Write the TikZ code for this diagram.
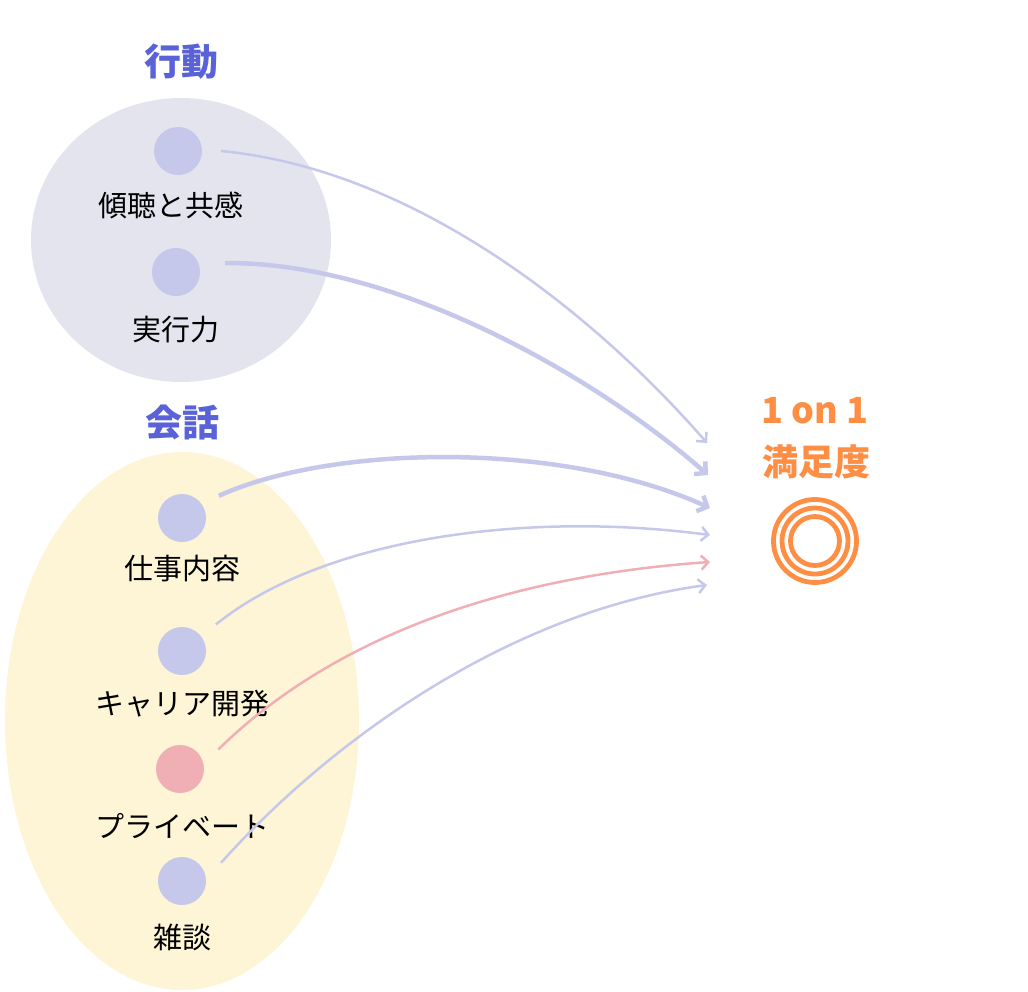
\documentclass[tikz,border=0pt]{standalone}
\usepackage{fontspec}
\setmainfont{Noto Sans CJK JP}
\usetikzlibrary{arrows.meta}
\definecolor{dotblue}{HTML}{C5C8EA}
\definecolor{dotpink}{HTML}{F0AEB5}
\definecolor{groupgray}{HTML}{E4E4EF}
\definecolor{groupyellow}{HTML}{FDF5D5}
\definecolor{titleblue}{HTML}{5A62D8}
\definecolor{goalorange}{HTML}{FF8E45}
\begin{document}
\begin{tikzpicture}[
        x=1pt, y=-1pt,
        font=\fontsize{29}{34}\selectfont
    ]
    \tikzset{
        mydot/.style = {circle, fill=dotblue, minimum size=48pt, inner sep=0pt, outer sep=19pt},
        mydotp/.style = {mydot, fill=dotpink},
        mylabel/.style = {text=black, inner sep=0pt},
        mytitle/.style = {text=titleblue, font=\fontsize{37}{40}\selectfont\bfseries, inner sep=0pt},
        mygoal/.style = {text=goalorange, font=\fontsize{36}{40}\selectfont\bfseries, inner sep=0pt},
        edgen/.style = {line width=2.5pt, dotblue, -{Straight Barb[length=7pt,width=14pt]}},
        edget/.style = {line width=4.5pt, dotblue, -{Straight Barb[length=8pt,width=17pt]}},
        edgep/.style = {edgen, dotpink},
        ring/.style = {draw=goalorange, line width=4.8pt},
    }
    \useasboundingbox (0,0) rectangle (1028,991);
    % groups
    \fill[groupgray] (181,240) ellipse [x radius=150, y radius=142];
    \fill[groupyellow] (182,721) ellipse [x radius=177, y radius=269];
    \node[mytitle] at (181,62) (act) {行動};
    \node[mytitle] at (182,422) (talk) {会話};
    %
    \node[mydot] at (178,151) (a) {};
    \node[mylabel] at (171,205) (la) {傾聴と共感};
    \node[mydot] at (176,272) (b) {};
    \node[mylabel] at (176,330) (lb) {実行力};
    %
    \node[mydot] at (182,518) (c) {};
    \node[mylabel] at (182,569) (lc) {仕事内容};
    \node[mydot] at (182,651) (d) {};
    \node[mylabel] at (182,704) (ld) {キャリア開発};
    \node[mydotp] at (180,769) (e) {};
    \node[mylabel] at (182,826) (le) {プライベート};
    \node[mydot] at (182,881) (f) {};
    \node[mylabel] at (182,937) (lf) {雑談};
    % goal
    \node[mygoal] at (815,411) (g1) {1 on 1};
    \node[mygoal] at (816,462) (g2) {満足度};
    \node[circle, ring, minimum size=83pt, inner sep=0pt] at (815,541) (g) {};
    \draw[ring] (g.center) circle (33);
    \draw[ring] (g.center) circle (24.5);
    \coordinate (t1) at (707,443);
    \coordinate (t2) at (708,475);
    \coordinate (t3) at (710,508);
    \coordinate (t4) at (710,535);
    \coordinate (t5) at (710,562);
    \coordinate (t6) at (707,585);
    %
    \draw[edgen] (a.0) .. controls (420,170) and (600,320) .. (t1);
    \draw[edget, shorten <=7pt] (b.12) .. controls (400,262) and (600,380) .. (t2);
    \draw[edget] (c.31) .. controls (330,445) and (560,440) .. (t3);
    \draw[edgen] (d.38) .. controls (320,540) and (520,510) .. (t4);
    \draw[edgep] (e.27) .. controls (340,630) and (520,575) .. (t5);
    \draw[edgen] (f.25) .. controls (340,730) and (520,610) .. (t6);
\end{tikzpicture}
\end{document}
